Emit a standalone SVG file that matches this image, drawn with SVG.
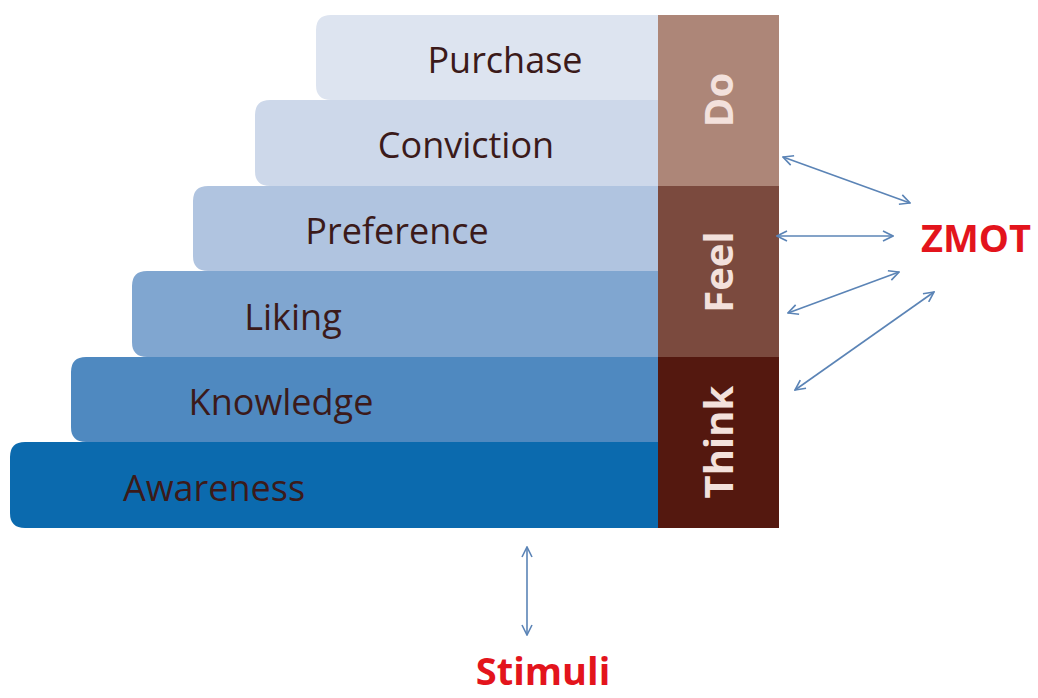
<svg xmlns="http://www.w3.org/2000/svg" width="1038" height="698" viewBox="0 0 1038 698">
<defs>
<style>
.lbl{font-family:"Open Sans","Liberation Sans",sans-serif;font-size:36px;fill:#3b1a1a;text-anchor:middle}
.vt{font-family:"Open Sans","Liberation Sans",sans-serif;font-size:40px;font-weight:bold;fill:#f3e1dc;text-anchor:middle}
.red{font-family:"Open Sans","Liberation Sans",sans-serif;font-weight:bold;fill:#e3141c}
.con{stroke:#5b84b6;stroke-width:1.6;fill:none;marker-start:url(#ah);marker-end:url(#ah)}
</style>
<marker id="ah" viewBox="0 0 12 12" refX="11" refY="6" markerWidth="12" markerHeight="12" markerUnits="userSpaceOnUse" orient="auto-start-reverse">
<path d="M1,1 L11,6 L1,11" fill="none" stroke="#5b84b6" stroke-width="1.6"/>
</marker>
</defs>
<rect width="1038" height="698" fill="#ffffff"/>
<g id="awareness"><path d="M25,442 H658 V528 H25 Q10,528 10,513 V457 Q10,442 25,442 Z" fill="#0b6aae"/><text class="lbl" x="214" y="501">Awareness</text></g>
<g id="knowledge"><path d="M86,357 H658 V442 H86 Q71,442 71,427 V372 Q71,357 86,357 Z" fill="#4f89c0"/><text class="lbl" x="281" y="415">Knowledge</text></g>
<g id="liking"><path d="M147,271 H658 V357 H147 Q132,357 132,342 V286 Q132,271 147,271 Z" fill="#80a6d0"/><text class="lbl" x="293" y="330">Liking</text></g>
<g id="preference"><path d="M208,186 H658 V271 H208 Q193,271 193,256 V201 Q193,186 208,186 Z" fill="#b0c4e0"/><text class="lbl" x="397" y="244">Preference</text></g>
<g id="conviction"><path d="M270,100 H658 V186 H270 Q255,186 255,171 V115 Q255,100 270,100 Z" fill="#cdd8ea"/><text class="lbl" x="466" y="158">Conviction</text></g>
<g id="purchase"><path d="M331,15 H658 V100 H331 Q316,100 316,85 V30 Q316,15 331,15 Z" fill="#dde4f0"/><text class="lbl" x="505" y="73">Purchase</text></g>
<g id="do"><rect x="658" y="15" width="121" height="171" fill="#ad8678"/><text class="vt" transform="translate(733,100) rotate(-90)">Do</text></g>
<g id="feel"><rect x="658" y="186" width="121" height="171" fill="#7b4a3e"/><text class="vt" transform="translate(733,272) rotate(-90)">Feel</text></g>
<g id="think"><rect x="658" y="357" width="121" height="171" fill="#54180f"/><text class="vt" transform="translate(733,442) rotate(-90)">Think</text></g>
<g id="zmot"><text class="red" x="976" y="252" font-size="38" text-anchor="middle">ZMOT</text></g>
<g id="stimuli"><text class="red" x="543" y="685" font-size="38" text-anchor="middle">Stimuli</text></g>
<g id="connectors">
<line class="con" x1="783" y1="157" x2="910" y2="203"/>
<line class="con" x1="777" y1="236" x2="893" y2="236"/>
<line class="con" x1="788" y1="313" x2="899" y2="272"/>
<line class="con" x1="795" y1="390" x2="934" y2="292"/>
<line class="con" x1="527" y1="547" x2="527" y2="635"/>
</g>
</svg>
